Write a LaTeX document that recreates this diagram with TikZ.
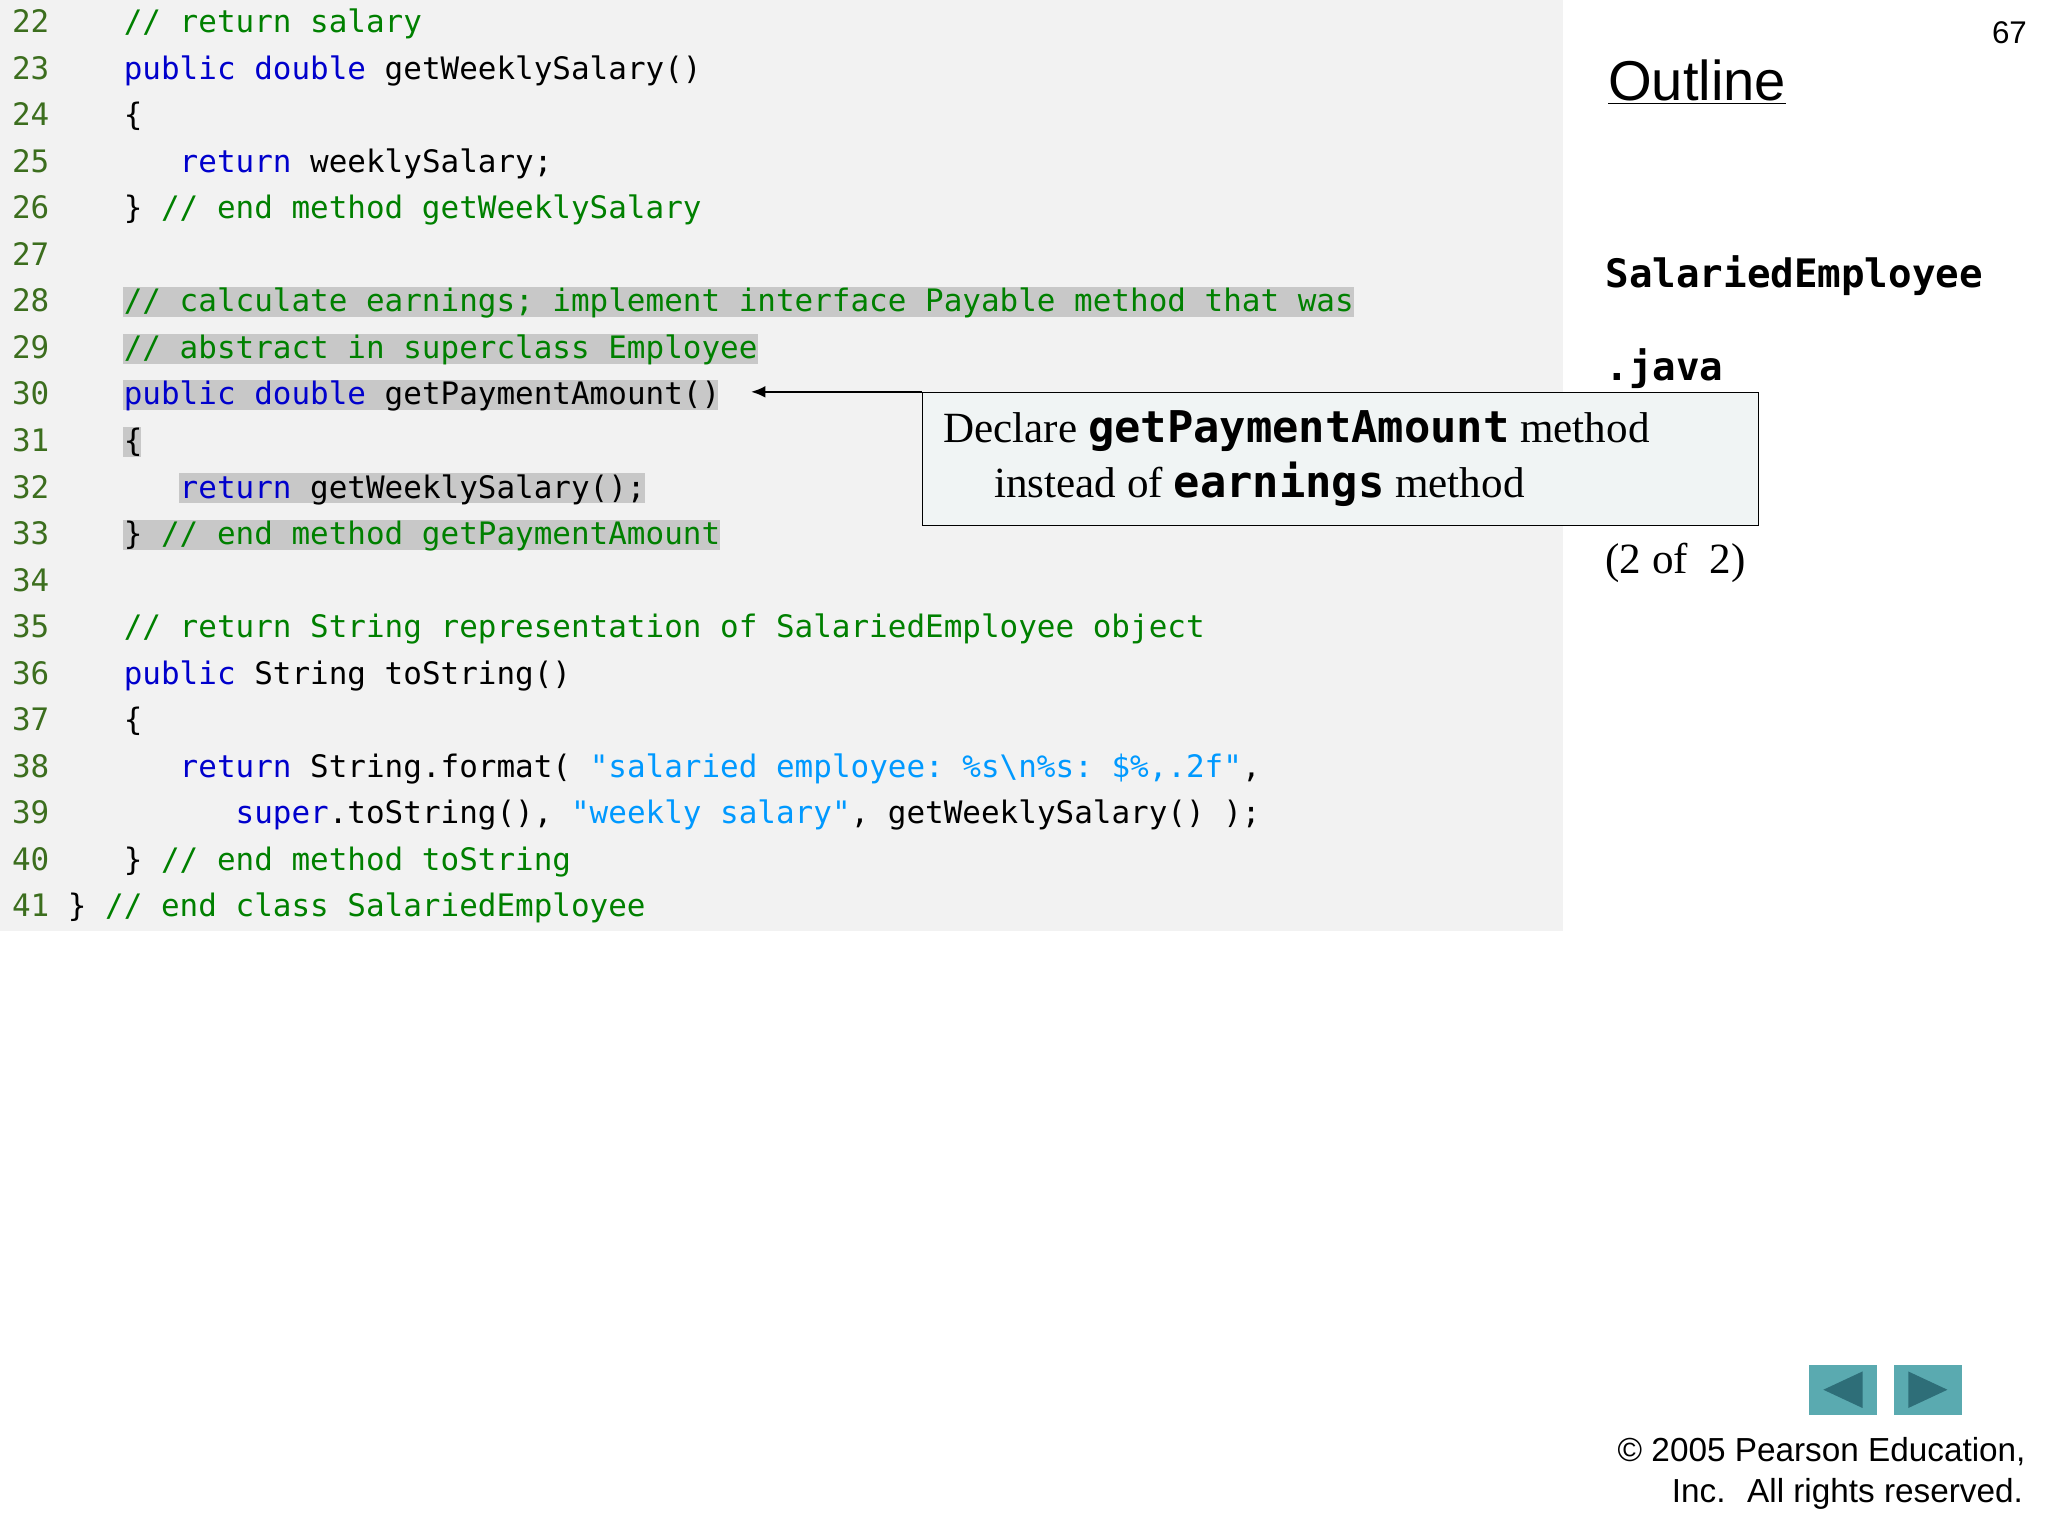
\documentclass[tikz,border=0pt]{standalone}
\usepackage{fontspec}
\setmainfont{Liberation Serif}
\setsansfont{Liberation Sans}
\setmonofont{DejaVu Sans Mono}
\usetikzlibrary{arrows.meta}
\definecolor{kw}{HTML}{0000CC}
\definecolor{cm}{HTML}{008000}
\definecolor{st}{HTML}{0099FF}
\definecolor{ln}{HTML}{3C6E1E}
\definecolor{panel}{HTML}{F2F2F2}
\definecolor{hl}{HTML}{C8C8C8}
\definecolor{navbg}{HTML}{5AAAB0}
\definecolor{navfg}{HTML}{2E6E78}
\newcommand{\K}[1]{\textcolor{kw}{#1}}
\newcommand{\C}[1]{\textcolor{cm}{#1}}
\newcommand{\Sx}[1]{\textcolor{st}{#1}}
\newcommand{\N}[1]{\textcolor{ln}{#1}}
\tikzset{code/.style={anchor=base west,inner sep=0pt,font=\fontsize{23.7}{26}\ttfamily}}
\begin{document}
\begin{tikzpicture}[x=1pt,y=-1pt]
\useasboundingbox (0,0) rectangle (1568,1176);
\fill[white] (0,0) rectangle (1568,1176);
\fill[panel] (0,0) rectangle (1197,713);
% highlights
\fill[hl] (94,220) rectangle (1037,243);
\fill[hl] (94,256) rectangle (580,279);
\fill[hl] (94,291) rectangle (550,314);
\fill[hl] (94,327) rectangle (108,350);
\fill[hl] (137,362) rectangle (494,385);
\fill[hl] (94,398) rectangle (551,421);
\def\pitch{35.63}
\foreach \i/\t in {
0/{\N{22}~~~~\C{// return salary}},
1/{\N{23}~~~~\K{public double} getWeeklySalary()},
2/{\N{24}~~~~\{},
3/{\N{25}~~~~~~~\K{return} weeklySalary;},
4/{\N{26}~~~~\} \C{// end method getWeeklySalary}},
5/{\N{27}},
6/{\N{28}~~~~\C{// calculate earnings; implement interface Payable method that was}},
7/{\N{29}~~~~\C{// abstract in superclass Employee}},
8/{\N{30}~~~~\K{public double} getPaymentAmount()},
9/{\N{31}~~~~\{},
10/{\N{32}~~~~~~~\K{return} getWeeklySalary();},
11/{\N{33}~~~~\} \C{// end method getPaymentAmount}},
12/{\N{34}},
13/{\N{35}~~~~\C{// return String representation of SalariedEmployee object}},
14/{\N{36}~~~~\K{public} String toString()},
15/{\N{37}~~~~\{},
16/{\N{38}~~~~~~~\K{return} String.format( \Sx{"salaried employee: \%s\textbackslash n\%s: \$\%,.2f"},},
17/{\N{39}~~~~~~~~~~\K{super}.toString(), \Sx{"weekly salary"}, getWeeklySalary() );},
18/{\N{40}~~~~\} \C{// end method toString}},
19/{\N{41}~\} \C{// end class SalariedEmployee}}}
  \node[code] (l\i) at (9,{25+\i*\pitch}) {\t};
% callout
\node[draw=black,fill={rgb,255:red,240;green,244;blue,244},minimum width=640,minimum height=102,anchor=north west,inner sep=0pt] (box) at (706,300) {};
\node[anchor=base west,inner sep=0pt,font=\fontsize{33}{36}\selectfont] (t1) at (722,339) {Declare \textbf{\fontsize{33.5}{36}\ttfamily getPaymentAmount} method};
\node[anchor=base west,inner sep=0pt,font=\fontsize{33}{36}\selectfont] (t2) at (761,381) {instead of \textbf{\fontsize{33.5}{36}\ttfamily earnings} method};
\coordinate (tip) at (575,300);
\draw[-{Latex[length=11,width=9]},line width=1.5] (box.north west) -- (tip);
% right side
\node[anchor=base east,inner sep=0pt,font=\sffamily\fontsize{24}{28}\selectfont] (pg) at (1552,33) {67};
\node[anchor=base west,inner sep=0pt,font=\sffamily\fontsize{43}{46}\selectfont] (ol) at (1231,77) {\underline{Outline}};
\node[anchor=base west,inner sep=0pt,font=\fontsize{30}{32}\ttfamily\bfseries] (f1) at (1229,220) {SalariedEmployee};
\node[anchor=base west,inner sep=0pt,font=\fontsize{30}{32}\ttfamily\bfseries] (f2) at (1229,291) {.java};
\node[anchor=base west,inner sep=0pt,font=\fontsize{33}{36}\selectfont] (pp) at (1229,439) {(2 of~~2)};
% nav
\fill[navbg] (1385,1045) rectangle (1437,1083);
\fill[navbg] (1450,1045) rectangle (1502,1083);
\fill[navfg] (1396,1064) -- (1426,1050) -- (1426,1078) -- cycle;
\fill[navfg] (1491,1064) -- (1461,1050) -- (1461,1078) -- cycle;
\node[anchor=base east,inner sep=0pt,font=\sffamily\fontsize{25.5}{30}\selectfont] (c1) at (1551,1119) {\textcopyright{} 2005 Pearson Education,};
\node[anchor=base east,inner sep=0pt,font=\sffamily\fontsize{25.5}{30}\selectfont] (c2) at (1549,1150) {Inc.~ All rights reserved.};
\end{tikzpicture}
\end{document}
